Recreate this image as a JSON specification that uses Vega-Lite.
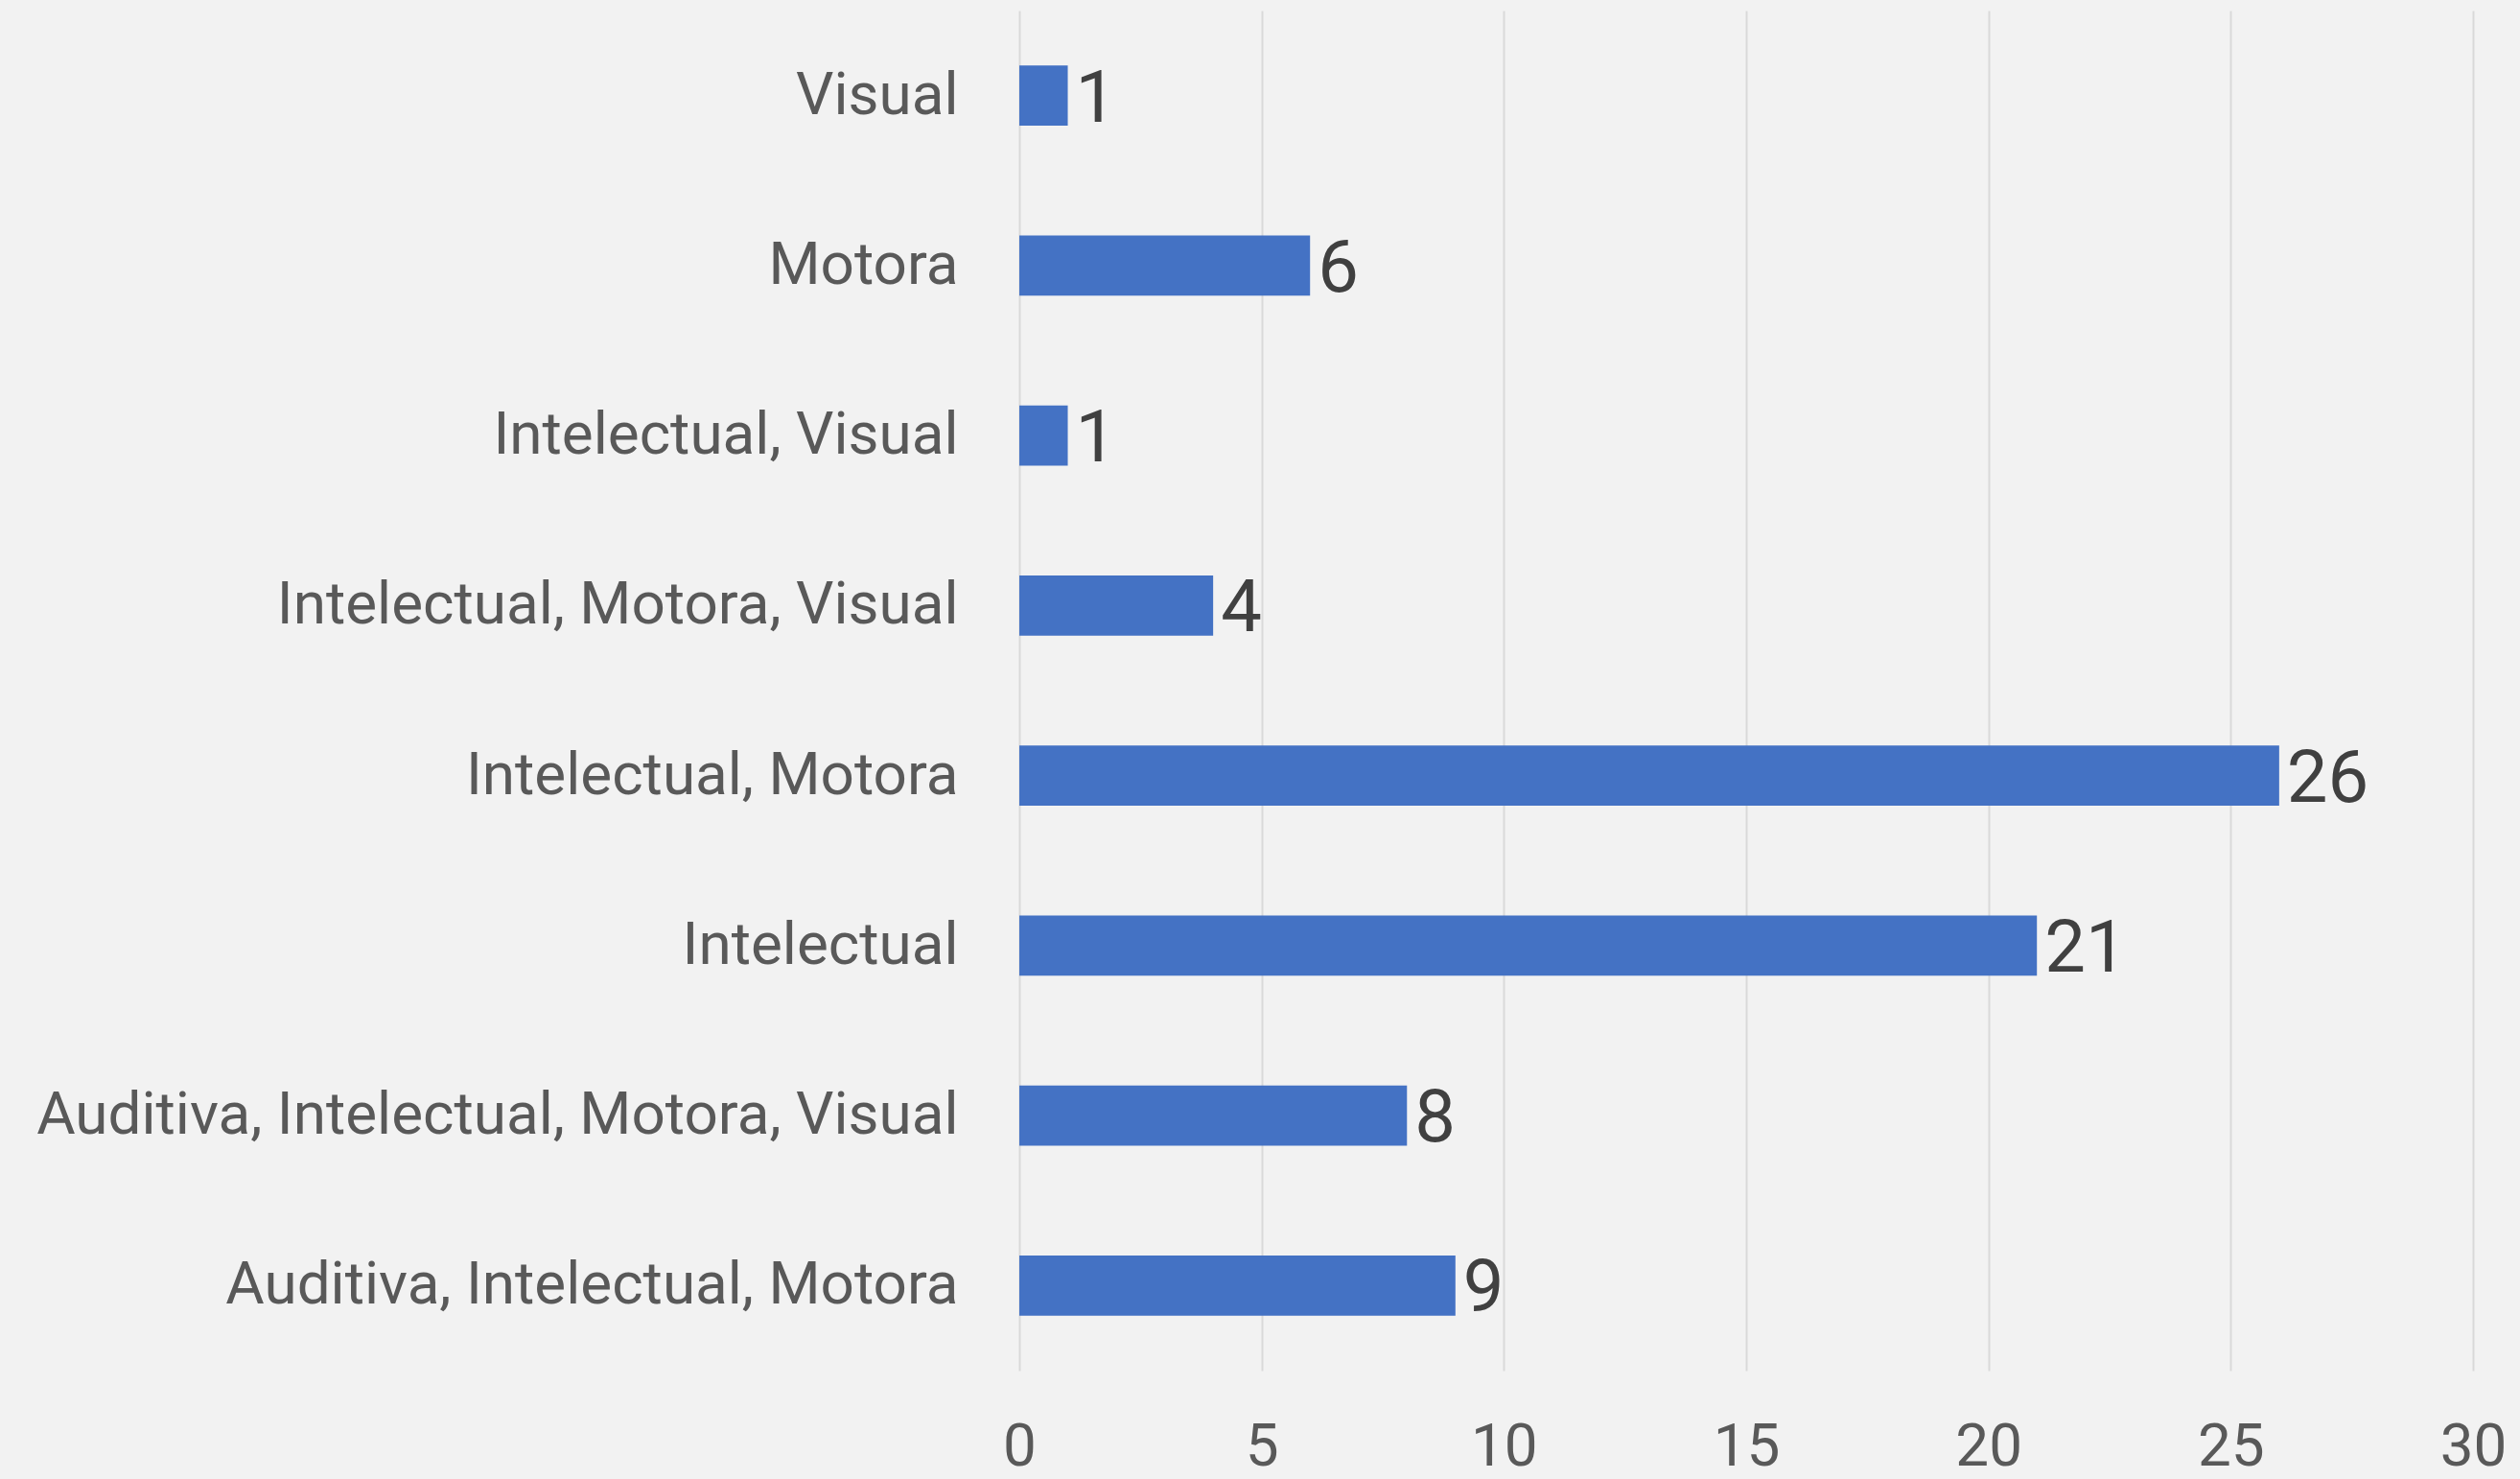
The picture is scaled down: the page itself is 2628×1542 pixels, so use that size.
{
  "$schema": "https://vega.github.io/schema/vega-lite/v6.json",
  "width": 1516,
  "height": 1418,
  "autosize": {"type": "none"},
  "padding": {"left": 1063, "top": 11, "right": 49, "bottom": 113},
  "background": "#f2f2f2",
  "config": {
    "view": {"stroke": null},
    "font": "Roboto"
  },
  "data": {
    "values": [
      {"categoria": "Visual", "valor": 1},
      {"categoria": "Motora", "valor": 6},
      {"categoria": "Intelectual, Visual", "valor": 1},
      {"categoria": "Intelectual, Motora, Visual", "valor": 4},
      {"categoria": "Intelectual, Motora", "valor": 26},
      {"categoria": "Intelectual", "valor": 21},
      {"categoria": "Auditiva, Intelectual, Motora, Visual", "valor": 8},
      {"categoria": "Auditiva, Intelectual, Motora", "valor": 9}
    ]
  },
  "encoding": {
    "y": {
      "field": "categoria",
      "type": "nominal",
      "sort": null,
      "scale": {"paddingInner": 0.645, "paddingOuter": 0.3225},
      "axis": {
        "title": null,
        "domain": false,
        "ticks": false,
        "grid": false,
        "labelFont": "Roboto",
        "labelFontSize": 62,
        "labelColor": "#595959",
        "labelPadding": 64,
        "labelLimit": 1100
      }
    },
    "x": {
      "field": "valor",
      "type": "quantitative",
      "scale": {"domain": [0, 30], "nice": false},
      "axis": {
        "title": null,
        "values": [0, 5, 10, 15, 20, 25, 30],
        "domain": false,
        "ticks": false,
        "grid": true,
        "gridColor": "#d9d9d9",
        "gridWidth": 2,
        "labelFlush": false,
        "labelFont": "Roboto",
        "labelFontSize": 62,
        "labelColor": "#595959",
        "labelPadding": 98,
        "labelBaseline": "alphabetic"
      }
    }
  },
  "layer": [
    {
      "mark": {"type": "bar", "color": "#4472c4"}
    },
    {
      "mark": {
        "type": "text",
        "align": "left",
        "baseline": "alphabetic",
        "dx": 8,
        "dy": 27,
        "font": "Roboto",
        "fontSize": 76,
        "color": "#404040"
      },
      "encoding": {"text": {"field": "valor", "type": "quantitative"}}
    }
  ]
}
